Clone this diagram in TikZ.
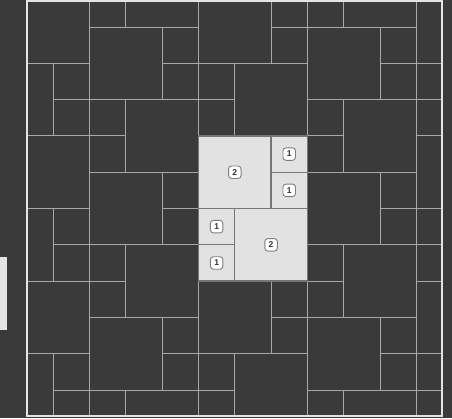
\documentclass[tikz,border=0pt]{standalone}
\usepackage{fontspec}
\setmainfont{Liberation Sans}
\definecolor{bg}{RGB}{58,58,58}
\definecolor{gridline}{RGB}{168,168,168}
\definecolor{framec}{RGB}{228,228,228}
\definecolor{hlfill}{RGB}{226,226,226}
\definecolor{hlline}{RGB}{118,118,118}
\definecolor{tagline}{RGB}{125,125,125}
\tikzset{
  tile/.style={draw=gridline, line width=1pt},
  hledge/.style={draw=hlline, line width=1.3pt},
  tag/.style={draw=tagline, fill=white, rounded corners=3pt, line width=0.9pt,
    minimum width=12.5pt, minimum height=12.5pt, inner sep=0.5pt,
    font=\fontsize{8.5}{8.5}\selectfont\bfseries, text=black!80},
  framebox/.style={draw=framec, line width=1.8pt},
}
\newcommand\tblock[2]{%
  \begin{scope}[shift={(#1,#2)}]
    \draw[tile] (0,0) rectangle (2,2);
    \draw[tile] (2,0) rectangle (3,1);
    \draw[tile] (2,1) rectangle (3,2);
    \draw[tile] (0,2) rectangle (1,3);
    \draw[tile] (0,3) rectangle (1,4);
    \draw[tile] (1,2) rectangle (3,4);
  \end{scope}}
\begin{document}
\begin{tikzpicture}[x=36.3pt,y=-36.3pt]
  \useasboundingbox (-0.4683,0.2562) rectangle (11.9835,11.7713);
  \fill[bg] (-0.4683,0.2562) rectangle (11.9835,11.7713);
  % cut-off light bar at the left
  \fill[framec] (-0.4683,7.336) rectangle (-0.267,9.347);
  % tiling
  \begin{scope}
    \clip (0.284,0.284) rectangle (11.716,11.716);
    \foreach \a/\b in {-1/-2,-1/2,-1/6,-1/10, 2/-3,2/1,2/5,2/9, 5/0,5/8, 8/-3,8/1,8/5,8/9, 11/0,11/4,11/8}
      {\tblock{\a}{\b}}
  \end{scope}
  % highlighted block
  \fill[hlfill] (5,4) rectangle (8,8);
  \draw[hledge] (5,4) rectangle (8,8);
  \draw[hledge] (7,4) -- (7,6);
  \draw[hledge] (7,5) -- (8,5);
  \draw[hledge] (5,6) -- (8,6);
  \draw[hledge] (6,6) -- (6,8);
  \draw[hledge] (5,7) -- (6,7);
  \node[tag] (t2a) at (6,5) {2};
  \node[tag] (t1a) at (7.5,4.5) {1};
  \node[tag] (t1b) at (7.5,5.5) {1};
  \node[tag] (t1c) at (5.5,6.5) {1};
  \node[tag] (t1d) at (5.5,7.5) {1};
  \node[tag] (t2b) at (7,7) {2};
  % frame
  \draw[framebox] (0.284,0.284) rectangle (11.716,11.716);
\end{tikzpicture}
\end{document}
